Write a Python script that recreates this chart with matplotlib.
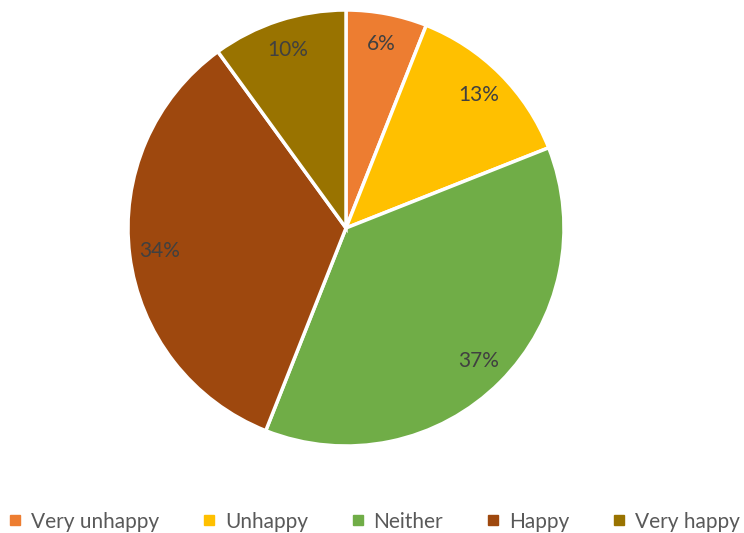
import matplotlib.pyplot as plt
from matplotlib.lines import Line2D

categories = ['Very unhappy', 'Unhappy', 'Neither', 'Happy', 'Very happy']
values = [6, 13, 37, 34, 10]
colors = ['#ED7D31', '#FFC000', '#70AD47', '#9E480E', '#997300']

plt.rcParams['font.family'] = ['Lato', 'DejaVu Sans']

fig = plt.figure(figsize=(7.44, 5.33), dpi=100)
# pie centre at (346, 228) px, radius 218 px
ax = fig.add_axes([(346 - 218) / 744, (533 - 446) / 533, 436 / 744, 436 / 533])

wedges, texts, autotexts = ax.pie(
    values, colors=colors, startangle=90, counterclock=False,
    autopct='%1.0f%%', pctdistance=0.86,
    wedgeprops=dict(edgecolor='white', linewidth=2.5),
    textprops=dict(color='#404040', fontsize=15))
ax.set_xlim(-1, 1)
ax.set_ylim(-1, 1)
ax.set_aspect('equal')

handles = [Line2D([], [], marker='s', linestyle='none', markersize=7,
                  markerfacecolor=c, markeredgecolor=c) for c in colors]
fig.legend(handles, categories, loc='lower left', bbox_to_anchor=(-0.01, -0.025),
           ncol=5, frameon=False, fontsize=15, handlelength=0.8,
           handletextpad=0.35, columnspacing=2.0, labelcolor='#595959',
           borderaxespad=0.3)

fig.savefig('out.png', dpi=100)
